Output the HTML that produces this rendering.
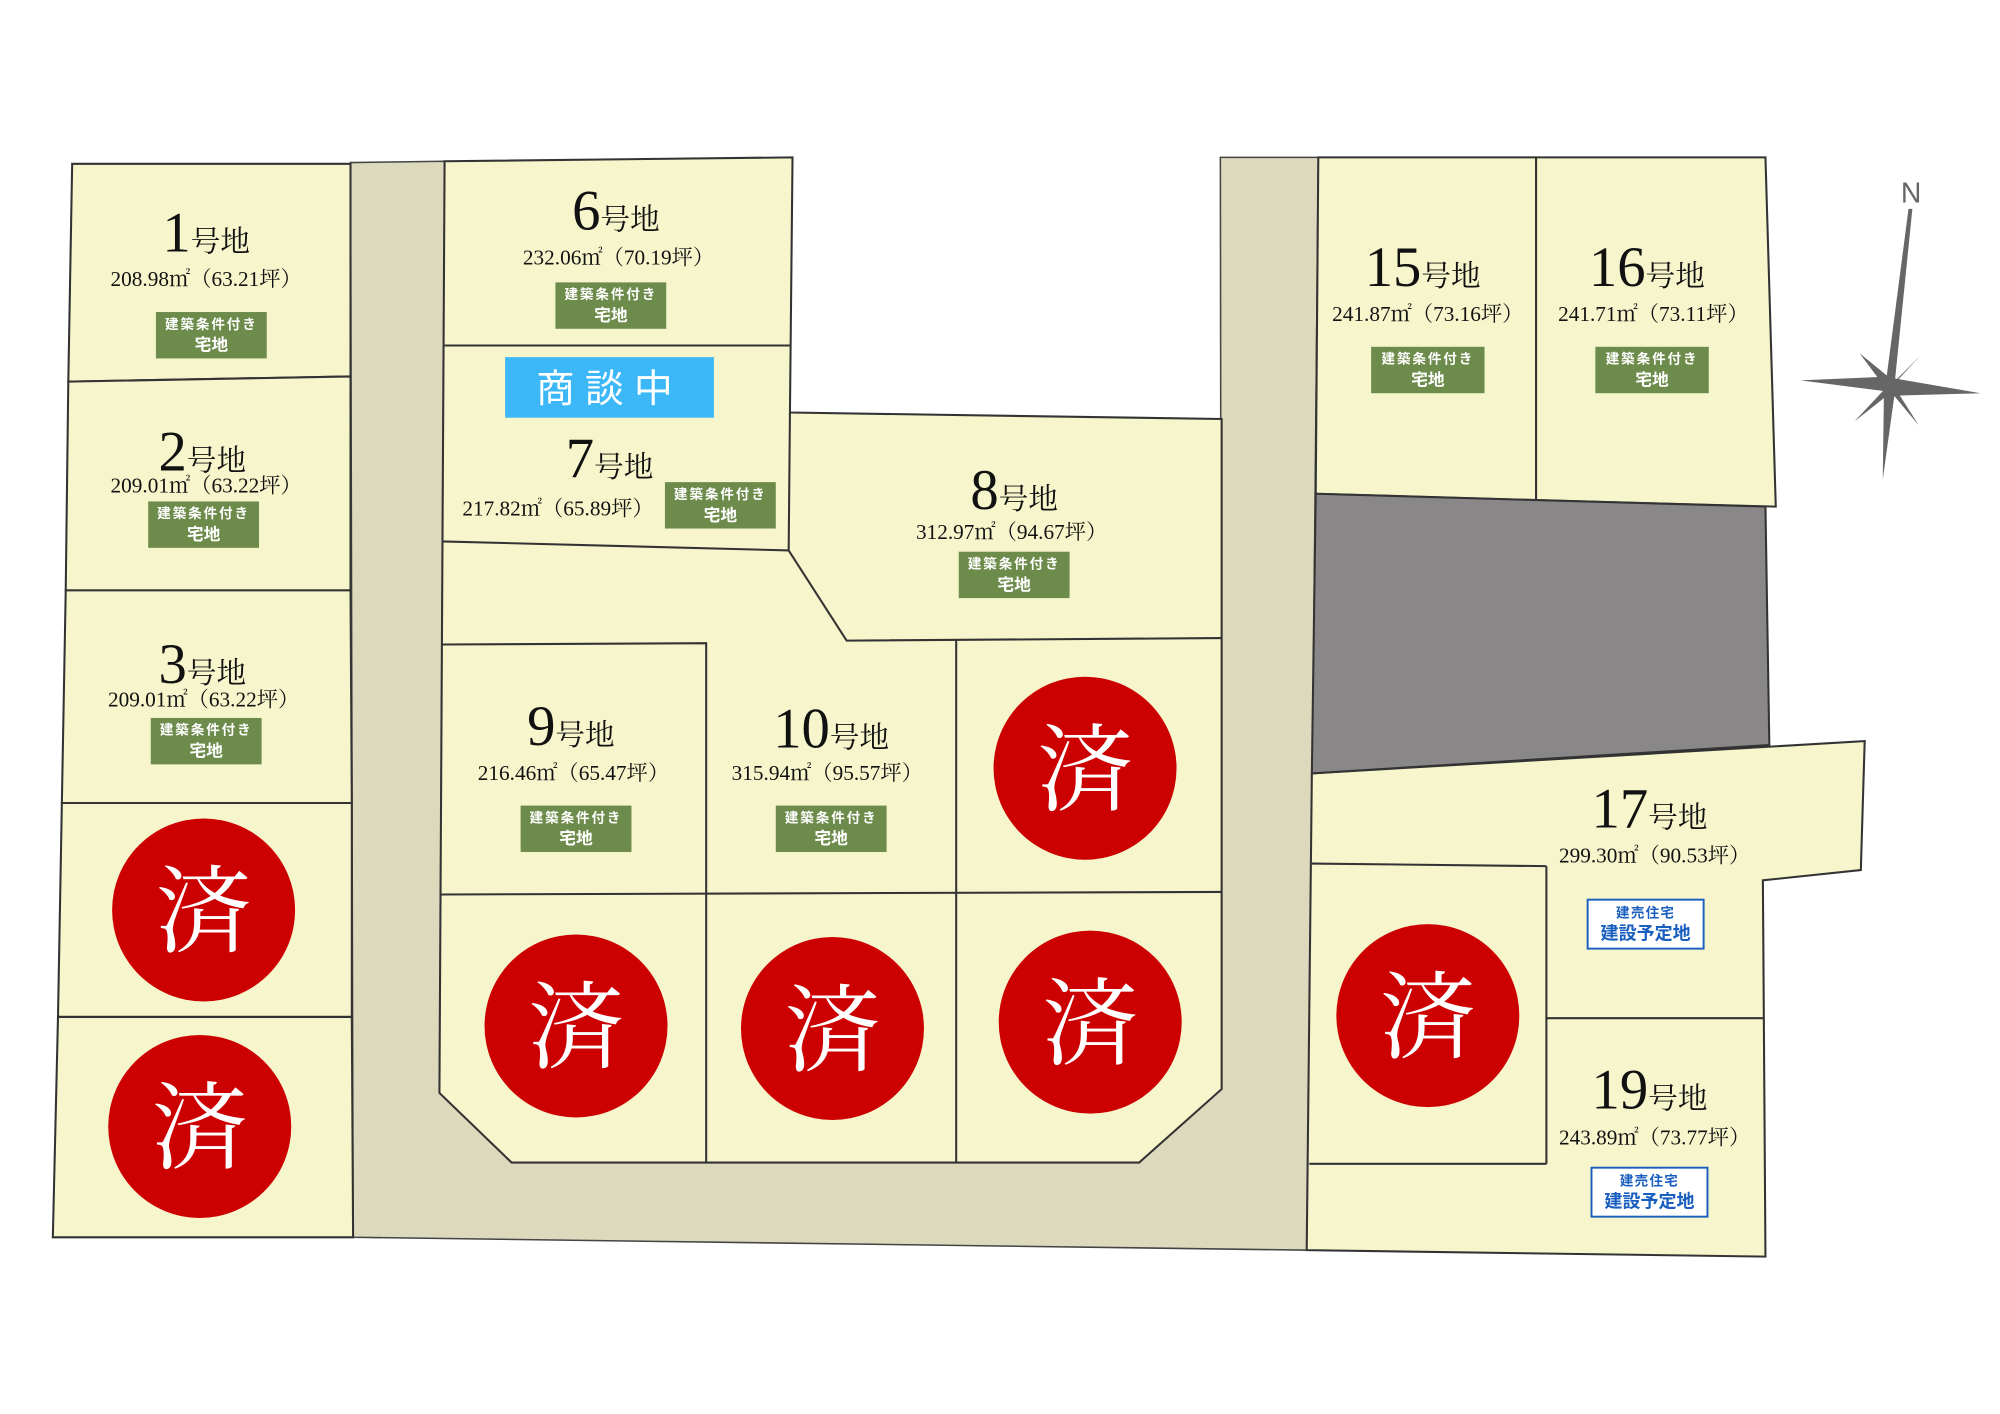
<!DOCTYPE html>
<html><head><meta charset="utf-8"><style>
html,body{margin:0;padding:0;background:#fff;}
svg{display:block;}
.num{font-family:"Liberation Serif","Noto Serif CJK JP",serif;fill:#111;}
.ar{font-family:"Liberation Serif","Noto Serif CJK JP",serif;font-size:16.5px;fill:#111;}
.g1{font-family:"Liberation Sans","Noto Sans CJK JP",sans-serif;font-size:10.5px;font-weight:bold;fill:#fff;letter-spacing:1.5px;}
.g2{font-family:"Liberation Sans","Noto Sans CJK JP",sans-serif;font-size:13px;font-weight:bold;fill:#fff;}
.b1{font-family:"Liberation Sans","Noto Sans CJK JP",sans-serif;font-size:10.5px;font-weight:bold;fill:#1a5fc0;letter-spacing:1px;}
.b2{font-family:"Liberation Sans","Noto Sans CJK JP",sans-serif;font-size:14px;font-weight:bold;fill:#1a5fc0;}
.sumi{font-family:"Noto Serif CJK JP","Noto Serif CJK SC",serif;font-size:74px;fill:#fff;}
</style></head><body>
<svg width="2000" height="1414" viewBox="0 0 1552 1097" xmlns="http://www.w3.org/2000/svg">
<rect width="1552" height="1097" fill="#fff"/>
<!-- road -->
<polygon points="272,126 345,125 341,848 397,902 884,902 948,845 947,122 1023,122 1015,970 274,960" fill="#ddd9bd" stroke="#444" stroke-width="1.2"/>
<g fill="#f6f5cc" stroke="#333" stroke-width="1.6">
<polygon points="56,127 272,127 272,292 53,296"/>
<polygon points="53,296 272,292 272,458 51,458"/>
<polygon points="51,458 272,458 273,623 48,623"/>
<polygon points="48,623 273,623 273,789 45,789"/>
<polygon points="45,789 273,789 274,960 41,960"/>
<polygon points="345,125 615,122 613,320 948,325 948,845 884,902 397,902 341,848"/>
<polygon points="1023,122 1192,122 1192,388 1021,383"/>
<polygon points="1192,122 1370,122 1378,393 1192,388"/>
<polygon points="1018,600 1447,575 1444,675 1368,683 1370,975 1014,970"/>
</g>
<polygon points="1021,383 1370,393 1373,578 1018,600" fill="#8a8789" stroke="#333" stroke-width="1.6"/>
<g stroke="#333" stroke-width="1.6" fill="none">
<line x1="345" y1="268" x2="613" y2="268"/>
<polyline points="343,420 612,427 613,320"/>
<polyline points="612,427 657,497 948,495"/>
<polyline points="343,500 548,499 548,902"/>
<line x1="742" y1="497" x2="742" y2="902"/>
<line x1="342" y1="694" x2="948" y2="692"/>
<line x1="1018" y1="670" x2="1200" y2="672"/>
<line x1="1200" y1="672" x2="1200" y2="903"/>
<line x1="1016" y1="903" x2="1200" y2="903"/>
<line x1="1200" y1="790" x2="1368" y2="790"/>
</g>
<g fill="#666" stroke="none">
<polygon points="1481,162 1484,162 1470,300 1463,300"/>
<polygon points="1462,300 1471,300 1461,372"/>
<polygon points="1397,295 1467,292 1467,304"/>
<polygon points="1467,293 1537,305 1467,307"/>
<polygon points="1443,274 1470,296 1464,302"/>
<polygon points="1490,276 1466,302 1470,296"/>
<polygon points="1439,327 1466,298 1468,304"/>
<polygon points="1489,330 1464,300 1470,300"/>
</g>
<text x="1483" y="157" text-anchor="middle" font-family="Liberation Sans,sans-serif" font-size="22" fill="#666">N</text>
<g fill="#cc0000">
<circle cx="158" cy="706" r="71"/><circle cx="155" cy="874" r="71"/>
<circle cx="447" cy="796" r="71"/><circle cx="646" cy="798" r="71"/>
<circle cx="846" cy="793" r="71"/><circle cx="842" cy="596" r="71"/>
<circle cx="1108" cy="788" r="71"/>
</g>
<g class="sumi" text-anchor="middle">
<text x="158" y="733">済</text><text x="155" y="901">済</text>
<text x="447" y="823">済</text><text x="646" y="825">済</text>
<text x="846" y="820">済</text><text x="842" y="623">済</text>
<text x="1108" y="815">済</text>
</g>
<rect x="392" y="277" width="162" height="47" fill="#3cb7f7"/>
<text x="473" y="312" text-anchor="middle" font-family="Noto Sans CJK JP,sans-serif" font-size="30" fill="#fff" letter-spacing="8">商談中</text>
<g text-anchor="middle">
<text class="num" x="160" y="195"><tspan font-size="44">1</tspan><tspan font-size="23">号地</tspan></text>
<text class="ar" x="160" y="222">208.98㎡（63.21坪）</text>
<text class="num" x="157" y="365"><tspan font-size="44">2</tspan><tspan font-size="23">号地</tspan></text>
<text class="ar" x="160" y="382">209.01㎡（63.22坪）</text>
<text class="num" x="157" y="530"><tspan font-size="44">3</tspan><tspan font-size="23">号地</tspan></text>
<text class="ar" x="158" y="548">209.01㎡（63.22坪）</text>
<text class="num" x="478" y="178"><tspan font-size="44">6</tspan><tspan font-size="23">号地</tspan></text>
<text class="ar" x="480" y="205">232.06㎡（70.19坪）</text>
<text class="num" x="473" y="370"><tspan font-size="44">7</tspan><tspan font-size="23">号地</tspan></text>
<text class="ar" x="433" y="400">217.82㎡（65.89坪）</text>
<text class="num" x="787" y="395"><tspan font-size="44">8</tspan><tspan font-size="23">号地</tspan></text>
<text class="ar" x="785" y="418">312.97㎡（94.67坪）</text>
<text class="num" x="443" y="578"><tspan font-size="44">9</tspan><tspan font-size="23">号地</tspan></text>
<text class="ar" x="445" y="605">216.46㎡（65.47坪）</text>
<text class="num" x="645" y="580"><tspan font-size="44">10</tspan><tspan font-size="23">号地</tspan></text>
<text class="ar" x="642" y="605">315.94㎡（95.57坪）</text>
<text class="num" x="1104" y="222"><tspan font-size="44">15</tspan><tspan font-size="23">号地</tspan></text>
<text class="ar" x="1108" y="249">241.87㎡（73.16坪）</text>
<text class="num" x="1278" y="222"><tspan font-size="44">16</tspan><tspan font-size="23">号地</tspan></text>
<text class="ar" x="1283" y="249">241.71㎡（73.11坪）</text>
<text class="num" x="1280" y="642"><tspan font-size="44">17</tspan><tspan font-size="23">号地</tspan></text>
<text class="ar" x="1284" y="669">299.30㎡（90.53坪）</text>
<text class="num" x="1280" y="860"><tspan font-size="44">19</tspan><tspan font-size="23">号地</tspan></text>
<text class="ar" x="1284" y="888">243.89㎡（73.77坪）</text>
</g>
<g>
<g transform="translate(164,260)"><rect x="-43" y="-18" width="86" height="36" fill="#6d8b4a"/><text class="g1" x="0" y="-5" text-anchor="middle">建築条件付き</text><text class="g2" x="0" y="12" text-anchor="middle">宅地</text></g>
<g transform="translate(158,407)"><rect x="-43" y="-18" width="86" height="36" fill="#6d8b4a"/><text class="g1" x="0" y="-5" text-anchor="middle">建築条件付き</text><text class="g2" x="0" y="12" text-anchor="middle">宅地</text></g>
<g transform="translate(160,575)"><rect x="-43" y="-18" width="86" height="36" fill="#6d8b4a"/><text class="g1" x="0" y="-5" text-anchor="middle">建築条件付き</text><text class="g2" x="0" y="12" text-anchor="middle">宅地</text></g>
<g transform="translate(474,237)"><rect x="-43" y="-18" width="86" height="36" fill="#6d8b4a"/><text class="g1" x="0" y="-5" text-anchor="middle">建築条件付き</text><text class="g2" x="0" y="12" text-anchor="middle">宅地</text></g>
<g transform="translate(559,392)"><rect x="-43" y="-18" width="86" height="36" fill="#6d8b4a"/><text class="g1" x="0" y="-5" text-anchor="middle">建築条件付き</text><text class="g2" x="0" y="12" text-anchor="middle">宅地</text></g>
<g transform="translate(787,446)"><rect x="-43" y="-18" width="86" height="36" fill="#6d8b4a"/><text class="g1" x="0" y="-5" text-anchor="middle">建築条件付き</text><text class="g2" x="0" y="12" text-anchor="middle">宅地</text></g>
<g transform="translate(447,643)"><rect x="-43" y="-18" width="86" height="36" fill="#6d8b4a"/><text class="g1" x="0" y="-5" text-anchor="middle">建築条件付き</text><text class="g2" x="0" y="12" text-anchor="middle">宅地</text></g>
<g transform="translate(645,643)"><rect x="-43" y="-18" width="86" height="36" fill="#6d8b4a"/><text class="g1" x="0" y="-5" text-anchor="middle">建築条件付き</text><text class="g2" x="0" y="12" text-anchor="middle">宅地</text></g>
<g transform="translate(1108,287)"><rect x="-44" y="-18" width="88" height="36" fill="#6d8b4a"/><text class="g1" x="0" y="-5" text-anchor="middle">建築条件付き</text><text class="g2" x="0" y="12" text-anchor="middle">宅地</text></g>
<g transform="translate(1282,287)"><rect x="-44" y="-18" width="88" height="36" fill="#6d8b4a"/><text class="g1" x="0" y="-5" text-anchor="middle">建築条件付き</text><text class="g2" x="0" y="12" text-anchor="middle">宅地</text></g>
</g>
<g transform="translate(1277,717)"><rect x="-45" y="-19" width="90" height="38" fill="#fff" stroke="#1a5fc0" stroke-width="1.5"/><text class="b1" x="0" y="-5" text-anchor="middle">建売住宅</text><text class="b2" x="0" y="12" text-anchor="middle">建設予定地</text></g>
<g transform="translate(1280,925)"><rect x="-45" y="-19" width="90" height="38" fill="#fff" stroke="#1a5fc0" stroke-width="1.5"/><text class="b1" x="0" y="-5" text-anchor="middle">建売住宅</text><text class="b2" x="0" y="12" text-anchor="middle">建設予定地</text></g>
</svg>
</body></html>
